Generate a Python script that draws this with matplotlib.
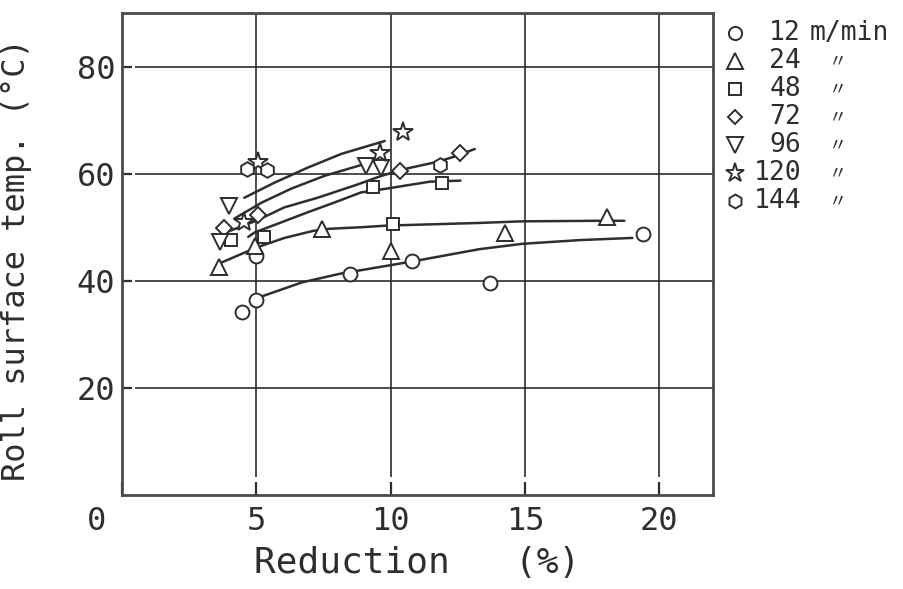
import matplotlib
matplotlib.use("Agg")
import matplotlib.pyplot as plt
from matplotlib.lines import Line2D
from matplotlib.transforms import ScaledTranslation


INK = "#2e2e2e"
FRAME = "#4a4a4a"
MONO = "DejaVu Sans Mono"

# Roll speed (m/min) for each series
speeds = ["12", "24", "48", "72", "96", "120", "144"]

# Measured points: reduction (%) and roll surface temperature (°C)
red_12 = [4.48, 5.0, 5.0, 8.47, 10.8, 13.7, 19.4]
temp_12 = [34.1, 36.5, 44.7, 41.3, 43.6, 39.5, 48.8]
red_24 = [3.62, 4.96, 7.46, 10.0, 14.25, 18.05]
temp_24 = [42.5, 46.5, 49.7, 45.6, 49.0, 52.0]
red_48 = [4.07, 5.3, 9.33, 10.1, 11.9]
temp_48 = [47.7, 48.2, 57.5, 50.6, 58.3]
red_72 = [3.8, 5.05, 10.35, 12.6]
temp_72 = [49.9, 52.3, 60.5, 63.8]
red_96 = [3.65, 4.0, 9.1, 9.65]
temp_96 = [47.2, 54.0, 61.5, 61.1]
red_120 = [4.55, 5.05, 9.6, 10.45]
temp_120 = [51.0, 62.1, 63.9, 67.7]
red_144 = [4.66, 5.4, 11.85]
temp_144 = [60.9, 60.6, 61.6]

# Hand-faired trend curves
fit_12_x = [5.1, 6.7, 8.1, 10.8, 13.3, 14.9, 17.05, 19.0]
fit_12_y = [36.9, 39.7, 41.3, 43.6, 45.9, 46.9, 47.6, 48.0]
fit_24_x = [3.7, 5.0, 6.05, 7.1, 7.7, 8.9, 9.85, 13.3, 14.9, 17.7, 18.7]
fit_24_y = [43.4, 46.2, 48.0, 49.3, 49.7, 50.0, 50.3, 50.8, 51.1, 51.2, 51.2]
fit_48_x = [4.7, 4.93, 6.92, 7.9, 8.9, 9.84, 11.45, 12.6]
fit_48_y = [48.2, 49.0, 52.8, 54.6, 56.5, 57.2, 58.5, 58.7]
fit_72_x = [3.95, 5.04, 6.04, 7.28, 8.78, 9.66, 10.64, 11.64, 12.26, 13.13]
fit_72_y = [49.2, 51.3, 53.7, 55.5, 58.0, 59.6, 61.0, 62.1, 63.0, 64.6]
fit_96_x = [4.18, 5.2, 6.3, 7.54, 9.03]
fit_96_y = [51.6, 54.6, 57.2, 59.6, 61.8]
fit_120_x = [4.55, 5.67, 6.9, 8.17, 9.78]
fit_120_y = [55.5, 58.3, 61.1, 63.7, 66.1]

x_ticks = [0, 5, 10, 15, 20]
y_ticks = [20, 40, 60, 80]

points = [
    (red_12, temp_12), (red_24, temp_24), (red_48, temp_48), (red_72, temp_72),
    (red_96, temp_96), (red_120, temp_120), (red_144, temp_144),
]
curves = [
    (fit_12_x, fit_12_y), (fit_24_x, fit_24_y), (fit_48_x, fit_48_y),
    (fit_72_x, fit_72_y), (fit_96_x, fit_96_y), (fit_120_x, fit_120_y),
]

# marker + size (pt) per speed
MARKERS = [("o", 10), ("^", 11.5), ("s", 9), ("D", 8), ("v", 11.5), ("*", 14.5), ("h", 10.5)]


fig = plt.figure(figsize=(9.04, 5.89), dpi=100)
ax = fig.add_axes([122 / 904, 1 - 495 / 589, 591 / 904, 482 / 589])
ax.set_xlim(0, 22)
ax.set_ylim(0, 90)

# grid drawn by hand so it stops short of the inward ticks
ax.hlines(y_ticks, 0.5, 22, color=INK, linewidth=1.2, zorder=1)
ax.vlines(x_ticks[1:], 3.4, 90, color=INK, linewidth=1.2, zorder=1)

for cx, cy in curves:
    ax.plot(cx, cy, color=INK, linewidth=1.8, zorder=2, solid_capstyle="round")

for (px, py), (m, ms) in zip(points, MARKERS):
    ax.plot(px, py, linestyle="none", marker=m, markersize=ms,
            markerfacecolor="white", markeredgecolor=INK, markeredgewidth=1.4, zorder=3)

for spine in ax.spines.values():
    spine.set_color(FRAME)
    spine.set_linewidth(2.0)

ax.set_xticks(x_ticks)
ax.set_yticks(y_ticks)
ax.set_xticklabels([str(v) for v in x_ticks], family=MONO, fontsize=23, color=INK)
ax.set_yticklabels([str(v) for v in y_ticks], family=MONO, fontsize=23, color=INK)
ax.tick_params(axis="x", direction="in", length=9.5, width=1.6, color=INK, pad=8)
ax.tick_params(axis="y", direction="in", length=7, width=1.6, color=INK, pad=5)

# the "0" at the corner sits left of the frame
zero = ax.get_xticklabels()[0]
zero.set_transform(zero.get_transform() + ScaledTranslation(-25 / 100, 0, fig.dpi_scale_trans))

ax.set_xlabel("Reduction   (%)", family=MONO, fontsize=26, color=INK)
ax.xaxis.set_label_coords(0.5, -0.105)
ax.set_ylabel("Roll surface temp. (°C)", family=MONO, fontsize=23, color=INK)
ax.yaxis.set_label_coords(-0.152, 0.488)

# key on the right: marker, speed, ditto marks
for i, ((m, ms), sp) in enumerate(zip(MARKERS, speeds)):
    yf = 1 - (33 + i * 28) / 589
    fig.add_artist(Line2D([735 / 904], [yf], transform=fig.transFigure, linestyle="none",
                          marker=m, markersize=ms * 0.95, markerfacecolor="white",
                          markeredgecolor=INK, markeredgewidth=1.4))
    fig.text(801 / 904, yf, sp, ha="right", va="center", family=MONO, fontsize=19, color=INK)
    if i == 0:
        fig.text(810 / 904, yf, "m/min", ha="left", va="center", family=MONO, fontsize=19, color=INK)
    else:
        fig.text(838 / 904, yf, "〃", ha="center", va="center",
                 family=["Noto Sans CJK JP", "DejaVu Sans"], fontsize=13, color=INK)

fig.savefig("out.png", dpi=100, facecolor="white")
